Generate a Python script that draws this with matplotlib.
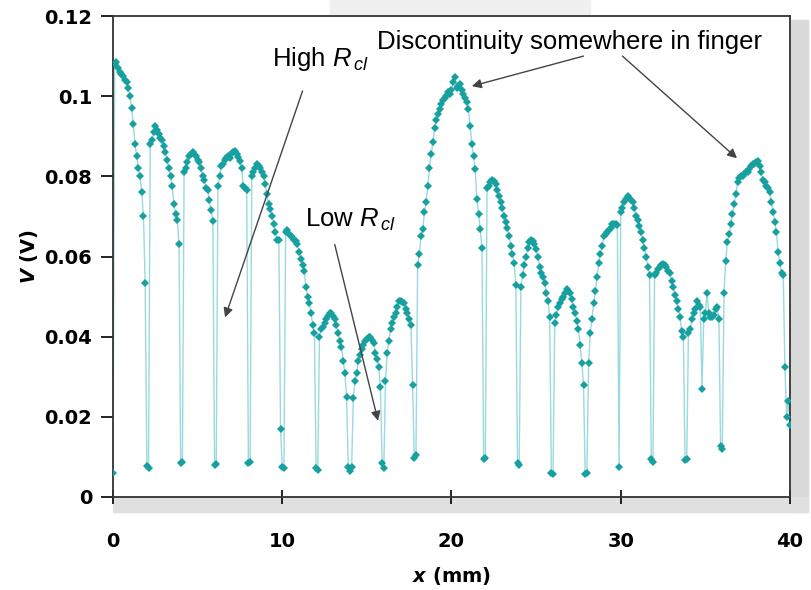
import numpy as np
import matplotlib
matplotlib.use('Agg')
import matplotlib.pyplot as plt
from matplotlib.patches import Rectangle

plt.rcParams['mathtext.fontset'] = 'custom'
plt.rcParams['mathtext.rm'] = 'Liberation Sans'
plt.rcParams['mathtext.it'] = 'Liberation Sans:italic'
plt.rcParams['mathtext.bfit'] = 'DejaVu Sans:italic:bold'

# scan position along the finger (mm), one sample every 0.1 mm
x_mm = np.round(np.arange(0, 401) * 0.1, 1)

# measured voltage (V), one row per 2 mm of scan
v_volts = [
    0.006, 0.108, 0.1085, 0.107, 0.106, 0.1055, 0.105, 0.104, 0.1035, 0.102,
    0.100, 0.097, 0.093, 0.088, 0.085, 0.082, 0.080, 0.076, 0.070, 0.0535,
    0.0078, 0.0072, 0.088, 0.089, 0.091, 0.0925, 0.0915, 0.0905, 0.0895, 0.089,
    0.0875, 0.086, 0.084, 0.082, 0.080, 0.0775, 0.073, 0.0705, 0.069, 0.063,
    0.0085, 0.0088, 0.081, 0.082, 0.0835, 0.085, 0.0855, 0.086, 0.0855, 0.085,
    0.084, 0.0835, 0.082, 0.080, 0.079, 0.077, 0.0765, 0.074, 0.0715, 0.0688,
    0.008, 0.0082, 0.0775, 0.080, 0.0825, 0.083, 0.084, 0.0845, 0.085, 0.0845,
    0.0855, 0.086, 0.0863, 0.0855, 0.0848, 0.0838, 0.082, 0.0775, 0.077, 0.0765,
    0.0085, 0.0088, 0.080, 0.081, 0.082, 0.083, 0.0825, 0.082, 0.081, 0.080,
    0.078, 0.0755, 0.073, 0.0718, 0.070, 0.068, 0.066, 0.064, 0.064, 0.017,
    0.0075, 0.0072, 0.066, 0.0665, 0.0655, 0.065, 0.0648, 0.064, 0.0638, 0.0632,
    0.061, 0.0595, 0.058, 0.0565, 0.0523, 0.050, 0.0485, 0.046, 0.043, 0.041,
    0.0072, 0.0068, 0.040, 0.0418, 0.0425, 0.0435, 0.0443, 0.0452, 0.0458, 0.046,
    0.0452, 0.0443, 0.043, 0.041, 0.039, 0.0375, 0.034, 0.031, 0.025, 0.0075,
    0.0065, 0.0075, 0.0248, 0.029, 0.031, 0.034, 0.0355, 0.0368, 0.038, 0.0388,
    0.0395, 0.0398, 0.040, 0.0392, 0.0385, 0.036, 0.0345, 0.0325, 0.0275, 0.0085,
    0.0072, 0.029, 0.036, 0.039, 0.0418, 0.0435, 0.045, 0.046, 0.0475, 0.049,
    0.0488, 0.0487, 0.0485, 0.047, 0.046, 0.0445, 0.043, 0.028, 0.0098, 0.0105,
    0.058, 0.0605, 0.065, 0.0668, 0.071, 0.0735, 0.0775, 0.082, 0.0855, 0.0885,
    0.092, 0.094, 0.0955, 0.0968, 0.098, 0.099, 0.0995, 0.100, 0.101, 0.1005,
    0.1015, 0.1035, 0.1048, 0.102, 0.1025, 0.103, 0.1015, 0.1005, 0.0995, 0.0985,
    0.0968, 0.0925, 0.088, 0.085, 0.0818, 0.0743, 0.0705, 0.0668, 0.062, 0.0095,
    0.0098, 0.077, 0.0775, 0.0785, 0.079, 0.0788, 0.078, 0.0765, 0.075, 0.0735,
    0.072, 0.070, 0.0685, 0.067, 0.065, 0.0625, 0.0605, 0.0585, 0.053, 0.0085,
    0.008, 0.0525, 0.0555, 0.058, 0.060, 0.062, 0.0635, 0.064, 0.0638, 0.063,
    0.0618, 0.060, 0.0575, 0.056, 0.0548, 0.0535, 0.051, 0.049, 0.045, 0.006,
    0.0058, 0.0435, 0.0455, 0.0475, 0.0485, 0.0495, 0.050, 0.051, 0.0518, 0.0515,
    0.051, 0.0495, 0.0475, 0.046, 0.044, 0.0418, 0.038, 0.0335, 0.028, 0.0058,
    0.006, 0.0335, 0.041, 0.0443, 0.0485, 0.0513, 0.055, 0.0585, 0.0605, 0.0625,
    0.065, 0.0655, 0.066, 0.0665, 0.067, 0.068, 0.0682, 0.068, 0.0678, 0.0075,
    0.071, 0.072, 0.0735, 0.0743, 0.075, 0.0745, 0.074, 0.0735, 0.072, 0.070,
    0.069, 0.0675, 0.066, 0.064, 0.062, 0.060, 0.0575, 0.0555, 0.0095, 0.0088,
    0.0555, 0.056, 0.057, 0.0575, 0.058, 0.0582, 0.058, 0.0575, 0.0565, 0.056,
    0.054, 0.0525, 0.0505, 0.0488, 0.047, 0.045, 0.0413, 0.040, 0.0093, 0.0095,
    0.041, 0.042, 0.0443, 0.046, 0.0468, 0.049, 0.048, 0.0475, 0.027, 0.0443,
    0.046, 0.051, 0.046, 0.0448, 0.045, 0.0455, 0.047, 0.0475, 0.0443, 0.0128,
    0.012, 0.051, 0.059, 0.0635, 0.0655, 0.068, 0.0705, 0.073, 0.0755, 0.0785,
    0.0795, 0.080, 0.0802, 0.0805, 0.081, 0.081, 0.0818, 0.0825, 0.083, 0.0832,
    0.0835, 0.0838, 0.0825, 0.081, 0.079, 0.0785, 0.0775, 0.077, 0.076, 0.0735,
    0.071, 0.0685, 0.066, 0.061, 0.0585, 0.056, 0.0555, 0.0325, 0.020, 0.024,
    0.018,
]

x_ticks = [0, 10, 20, 30, 40]
y_ticks = [0, 0.02, 0.04, 0.06, 0.08, 0.1, 0.12]
y_ticklabels = ['0', '0.02', '0.04', '0.06', '0.08', '0.1', '0.12']

W, H = 812, 590
fig = plt.figure(figsize=(W / 100, H / 100), dpi=100)
ax = fig.add_axes([113 / W, 1 - 497 / H, (790 - 113) / W, (497 - 16) / H])

# grey frame shadow round the plot box
fig.add_artist(Rectangle((790 / W, 1 - 512 / H), 18 / W, 492 / H,
                         transform=fig.transFigure, color='#dadada', zorder=0))
fig.add_artist(Rectangle((113 / W, 1 - 512 / H), 695 / W, 15 / H,
                         transform=fig.transFigure, color='#e0e0e0', zorder=0))
fig.add_artist(Rectangle((330 / W, 1 - 14 / H), 260 / W, 14 / H,
                         transform=fig.transFigure, color='#f0f0f0', zorder=0))

ax.plot(x_mm, v_volts, color='#9adada', lw=1.0, zorder=2)
ax.plot(x_mm, v_volts, ls='none', marker='D', ms=3.8, mew=0,
        color='#17a0a0', zorder=3)

ax.set_xlim(0, 40)
ax.set_ylim(0, 0.12)
ax.set_xticks(x_ticks)
ax.set_yticks(y_ticks)
ax.set_yticklabels(y_ticklabels)
for s in ax.spines.values():
    s.set_color('#333333')
    s.set_linewidth(1.3)
ax.tick_params(axis='y', direction='out', length=9, width=1.2, pad=6,
               labelsize=14, right=False)
ax.tick_params(axis='x', direction='inout', length=10, width=1.2, pad=20,
               labelsize=14, top=False)
for lab in ax.get_xticklabels() + ax.get_yticklabels():
    lab.set_fontweight('bold')

ax.set_xlabel(r'$\mathbfit{x}$ (mm)', fontsize=14, fontweight='bold', labelpad=10)
ax.set_ylabel(r'$\mathbfit{V}$ (V)', fontsize=14, fontweight='bold', labelpad=3)

fs = 18.5
arr = dict(arrowstyle='-|>', color='#444444', lw=1.0, mutation_scale=14,
           shrinkA=0, shrinkB=0)
ax.annotate('', xy=(6.62, 0.0448), xytext=(11.2, 0.1013), arrowprops=arr)
ax.annotate('', xy=(15.66, 0.019), xytext=(13.1, 0.063), arrowprops=arr)
ax.annotate('', xy=(21.2, 0.1025), xytext=(27.8, 0.110), arrowprops=arr)
ax.annotate('', xy=(36.87, 0.0845), xytext=(30.1, 0.110), arrowprops=arr)

ax.text(9.39, 0.1075, r'High $R_{\,cl}$', fontsize=fs, family='Liberation Sans',
        va='baseline', ha='left')
ax.text(11.34, 0.0675, r'Low $R_{\,cl}$', fontsize=fs, family='Liberation Sans',
        va='baseline', ha='left')
ax.text(15.6, 0.1117, 'Discontinuity somewhere in finger', fontsize=fs,
        family='Liberation Sans', va='baseline', ha='left')

fig.savefig('out.png', dpi=100)
